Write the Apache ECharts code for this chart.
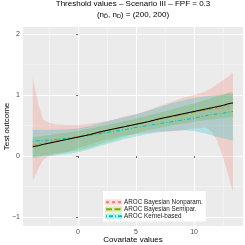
<!DOCTYPE html>
<html><head><meta charset="utf-8">
<script src="https://cdn.jsdelivr.net/npm/echarts@6/dist/echarts.min.js"></script>
<style>html,body{margin:0;padding:0;background:#fff}#c{width:245px;height:245px}</style>
</head><body><div id="c"></div>
<script>
// Covariate grid
var xs = [-3.9,-3.4,-3,-2.5,-2,-1,0,1,2,3,4,5,6,7,8,9,10,11,11.5,12,12.5,13,13.35];
// True threshold
var trueVals = [0.15,0.17,0.19,0.21,0.23,0.27,0.31,0.35,0.40,0.44,0.48,0.52,0.56,0.61,0.65,0.69,0.73,0.77,0.79,0.81,0.83,0.86,0.87];
// AROC Bayesian Nonparam.
var npMean  = [0.19,0.20,0.21,0.23,0.25,0.28,0.32,0.36,0.40,0.44,0.48,0.52,0.56,0.60,0.64,0.68,0.72,0.75,0.77,0.78,0.79,0.80,0.81];
var npLow   = [-0.40,-0.20,-0.06,-0.01,0.02,0.06,0.13,0.19,0.25,0.29,0.34,0.36,0.38,0.40,0.40,0.42,0.45,0.47,0.40,0.25,-0.02,-0.35,-0.60];
var npHigh  = [1.28,0.84,0.59,0.55,0.52,0.51,0.51,0.53,0.56,0.59,0.65,0.69,0.74,0.82,0.88,0.95,1.00,1.06,1.11,1.18,1.24,1.31,1.37];
// AROC Bayesian Semipar.
var spMean  = [0.16,0.18,0.19,0.21,0.23,0.27,0.31,0.35,0.39,0.44,0.48,0.52,0.56,0.60,0.64,0.68,0.72,0.76,0.78,0.80,0.82,0.84,0.86];
var spLow   = [-0.02,0.00,0.01,0.02,0.04,0.06,0.09,0.14,0.20,0.26,0.32,0.37,0.42,0.46,0.50,0.53,0.56,0.59,0.60,0.61,0.62,0.63,0.63];
var spHigh  = [0.31,0.32,0.33,0.34,0.36,0.38,0.41,0.45,0.49,0.53,0.57,0.61,0.66,0.71,0.76,0.81,0.86,0.92,0.95,0.98,1.01,1.04,1.05];
// AROC Kernel-based
var kMean   = [0.24,0.25,0.25,0.26,0.27,0.29,0.31,0.34,0.37,0.40,0.43,0.47,0.50,0.53,0.56,0.59,0.62,0.66,0.68,0.69,0.70,0.72,0.73];
var kLow    = [-0.03,-0.02,-0.01,0.00,0.01,0.03,0.06,0.11,0.17,0.22,0.28,0.32,0.36,0.39,0.41,0.42,0.41,0.37,0.34,0.31,0.29,0.27,0.25];
var kHigh   = [0.43,0.43,0.43,0.43,0.43,0.44,0.45,0.49,0.54,0.59,0.63,0.68,0.74,0.80,0.86,0.91,0.95,0.98,0.99,1.00,1.01,1.02,1.02];

var xTicks = [0,5,10];
var xMinor = [-2.5,2.5,7.5,12.5];
var yTicks = [-1,0,1,2];
var yMinor = [-0.5,0.5,1.5];

var names = ['AROC Bayesian Nonparam.','AROC Bayesian Semipar.','AROC Kernel-based'];
var cols = ['#F8766D','#7CAE00','#00BFC4'];
var fills = ['rgba(248,118,109,0.25)','rgba(124,174,0,0.25)','rgba(0,191,196,0.25)'];
var dashes = [[3,3],[6,2.5],[1,2,4,2]];
var means = [npMean, spMean, kMean];
var lows = [npLow, spLow, kLow];
var highs = [npHigh, spHigh, kHigh];

function pairs(v){ return xs.map(function(x,i){return [x,v[i]];}); }

var series = [];
for (var k=0;k<3;k++){
  series.push({type:'line', name:names[k], data:pairs(means[k]), symbol:'none', z:4,
    lineStyle:{color:cols[k], width:1, type:dashes[k]}, itemStyle:{color:cols[k]}, silent:true, animation:false});
}
series.push({type:'line', name:'True', data:pairs(trueVals), symbol:'none', z:5,
  lineStyle:{color:'#000', width:1}, silent:true, animation:false});
// ribbons: polygon through lower then upper bounds, placed with the axis scales
for (var k=0;k<3;k++){
  (function(k){
    var band = xs.map(function(x,i){return [x, lows[k][i], highs[k][i]];});
    series.push({type:'custom', name:'band'+k, z:2, silent:true, animation:false, clip:true,
      data:band, encode:{x:0, y:[1,2]},
      renderItem:function(params, api){
        if (params.dataIndex !== 0) return null;
        var pts = [];
        for (var i=0;i<band.length;i++) pts.push(api.coord([band[i][0], band[i][1]]));
        for (var i=band.length-1;i>=0;i--) pts.push(api.coord([band[i][0], band[i][2]]));
        return {type:'polygon', shape:{points:pts}, style:{fill:fills[k]}};
      }});
  })(k);
}
var font = 'Liberation Sans, Arial, Helvetica, sans-serif';
var chart = echarts.init(document.getElementById('c'), null, {renderer:'canvas'});
chart.setOption({
  animation:false,
  backgroundColor:'#fff',
  title:{
    text:'Threshold values – Scenario III – FPF = 0.3',
    subtext:'(n{s|D̄}, n{s|D}) = (200, 200)',
    left:133, top:0, textAlign:'center', itemGap:2, padding:0,
    textStyle:{fontFamily:font, fontSize:8, fontWeight:'normal', color:'#000'},
    subtextStyle:{fontFamily:font, fontSize:8, color:'#000', rich:{s:{fontFamily:font, fontSize:5.5, color:'#000', verticalAlign:'bottom', padding:[3,0,0,0]}}}
  },
  grid:{left:23, right:2, top:27, bottom:19, show:true, backgroundColor:'#EBEBEB', borderWidth:0, containLabel:false, outerBoundsMode:'none'},
  xAxis:[{type:'value', min:-4.74, max:14.22,
    name:'Covariate values', nameLocation:'middle', nameGap:10, nameMoveOverlap:false,
    nameTextStyle:{fontFamily:font, fontSize:8, color:'#000'},
    axisLine:{show:false},
    axisTick:{show:true, length:2, lineStyle:{color:'#333', width:0.7}, customValues:xTicks},
    axisLabel:{fontFamily:font, fontSize:7, color:'#4D4D4D', margin:3, customValues:xTicks},
    splitLine:{show:true, lineStyle:{color:'#fff', width:1}}
  },{type:'value', min:-4.74, max:14.22, position:'bottom',
    axisLine:{show:false}, axisLabel:{show:false},
    axisTick:{show:false, customValues:xMinor},
    splitLine:{show:true, lineStyle:{color:'#F6F6F6', width:0.6}}
  }],
  yAxis:[{type:'value', min:-1.148, max:2.115,
    name:'Test outcome', nameLocation:'middle', nameGap:12, nameRotate:90, nameMoveOverlap:false,
    nameTextStyle:{fontFamily:font, fontSize:8, color:'#000'},
    axisLine:{show:false},
    axisTick:{show:true, length:2, lineStyle:{color:'#333', width:0.7}, customValues:yTicks},
    axisLabel:{fontFamily:font, fontSize:7, color:'#4D4D4D', margin:3, customValues:yTicks,
      formatter:function(v){return String(v).replace('-','\u2212');}},
    splitLine:{show:true, lineStyle:{color:'#fff', width:1}}
  },{type:'value', min:-1.148, max:2.115, position:'left',
    axisLine:{show:false}, axisLabel:{show:false},
    axisTick:{show:false, customValues:yMinor},
    splitLine:{show:true, lineStyle:{color:'#F6F6F6', width:0.6}}
  }],
  legend:[{
    orient:'vertical', left:103, top:191, padding:[8,3,2,2], itemGap:0.5,
    itemWidth:17, itemHeight:6, backgroundColor:'#fff', selectedMode:false,
    textStyle:{fontFamily:font, fontSize:6.3, color:'#1A1A1A', lineHeight:6.5, padding:[0,0,0,-3]},
    data:names.map(function(n,i){return {name:n, icon:'rect', itemStyle:{color:fills[i], borderWidth:0}};})
  },{
    orient:'vertical', left:103, top:191, padding:[8,3,2,2], itemGap:0.5,
    itemWidth:17, itemHeight:6, selectedMode:false,
    textStyle:{fontFamily:font, fontSize:6.3, color:'rgba(0,0,0,0)', lineHeight:6.5, padding:[0,0,0,-3]},
    data:names.map(function(n,i){return {name:n, itemStyle:{opacity:0}};})
  }],
  graphic:[{type:'text', left:105, top:192, style:{text:'Approach', fontFamily:font, fontSize:6.3, fill:'#000'}}],
  series:series
});
</script></body></html>
